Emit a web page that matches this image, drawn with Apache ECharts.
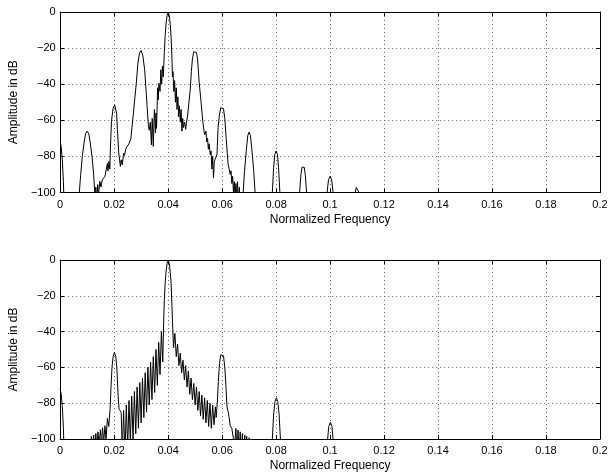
<!DOCTYPE html>
<html>
<head>
<meta charset="utf-8">
<script src="https://cdn.jsdelivr.net/npm/echarts@6.0.0/dist/echarts.min.js"></script>
<style>
html,body{margin:0;padding:0;background:#fff;}
#chart{width:611px;height:473px;}
</style>
</head>
<body>
<div id="chart"></div>
<script>
// Frequency axis ticks and amplitude ticks
const xTicks = [0, 0.02, 0.04, 0.06, 0.08, 0.1, 0.12, 0.14, 0.16, 0.18, 0.2];
const yTicks = [-100, -80, -60, -40, -20, 0];
const xTitle = 'Normalized Frequency';
const yTitle = 'Amplitude in dB';

// Upper panel spectrum: [normalized frequency, amplitude dB] (values below -100 are clipped)
const topSpectrum = [
  [0,-72],[0.0004,-75],[0.0008,-82],[0.0012,-94],[0.0016,-115],[0.004,-125],
  [0.0068,-115],[0.0071,-100],[0.0076,-90],[0.0082,-80],[0.0089,-72],[0.0094,-67.5],[0.01,-66],
  [0.0106,-67.5],[0.0111,-72],[0.0118,-80],[0.0124,-90],[0.0128,-100],[0.013,-106],[0.0132,-97],
  [0.01353,-104],[0.0139,-95.6],[0.0142,-101],[0.0147,-93.8],[0.0151,-97],[0.0156,-93],[0.0161,-92],
  [0.0166,-91],[0.0171,-90],[0.0175,-83.8],[0.0177,-88],[0.0181,-82.8],[0.0184,-87],[0.0186,-76],
  [0.019,-60.6],[0.0196,-53.3],[0.0202,-51.5],[0.0209,-56],[0.0212,-65],[0.0217,-78],[0.0223,-85.6],
  [0.0226,-81.9],[0.023,-84.7],[0.0235,-78.2],[0.0238,-79.5],[0.0244,-75.5],[0.025,-74.6],
  [0.0256,-72.7],[0.0262,-70],[0.0266,-64],[0.027,-58],[0.0276,-48.7],[0.0282,-39.5],[0.0288,-28.3],
  [0.0294,-22.7],[0.03,-21.3],[0.0306,-24],[0.0313,-32],[0.0319,-45],[0.0322,-52.3],[0.0327,-63.4],
  [0.033,-65.5],[0.0334,-61],[0.0338,-73.6],[0.0341,-59],[0.0345,-74.5],[0.0349,-54],[0.0353,-67],
  [0.0355,-56],[0.0357,-64.5],[0.0361,-42],[0.0363,-48.7],[0.0366,-39.5],[0.037,-44],[0.0373,-32],
  [0.0376,-40],[0.0379,-30],[0.0382,-36],[0.0386,-22],[0.0389,-13],[0.0392,-7],[0.0396,-2],[0.04,0],
  [0.0404,-2],[0.0408,-7],[0.0411,-14],[0.0414,-25],[0.0416,-36],[0.0418,-33],[0.0421,-44],
  [0.0424,-38],[0.0427,-50],[0.043,-42],[0.0433,-54],[0.0436,-47],[0.0439,-58],[0.0442,-52],
  [0.0445,-61],[0.0448,-54],[0.0451,-66],[0.0454,-59],[0.0457,-64],[0.0461,-61],[0.0465,-65],
  [0.0468,-61],[0.0472,-57.7],[0.0477,-50],[0.0482,-42.8],[0.0486,-33],[0.049,-26],[0.0495,-22],
  [0.05,-21],[0.0505,-22.5],[0.0509,-26],[0.0515,-39],[0.0522,-50],[0.0528,-60],[0.0533,-66],
  [0.0536,-68],[0.054,-66],[0.0543,-72],[0.0546,-70],[0.0549,-76],[0.0552,-73],[0.0556,-79],
  [0.0559,-77],[0.0562,-87],[0.0565,-80],[0.0568,-92],[0.0571,-83],[0.0574,-81.5],[0.0578,-82],
  [0.0581,-79],[0.0585,-64],[0.059,-57],[0.0595,-53],[0.06,-52],[0.0605,-53.5],[0.061,-59],
  [0.0615,-70],[0.0622,-84],[0.0626,-85],[0.063,-90],[0.0633,-88],[0.0636,-95],[0.0639,-91],
  [0.0642,-100],[0.0645,-94],[0.0648,-103],[0.0651,-95],[0.0654,-104],[0.0657,-94],[0.066,-106],
  [0.0664,-97],[0.0667,-110],[0.067,-102],[0.0674,-115],[0.0678,-100],[0.0683,-88],[0.069,-76],
  [0.0695,-68.5],[0.07,-66.5],[0.0705,-68.5],[0.071,-76],[0.0717,-88],[0.0722,-100],[0.0726,-115],
  [0.075,-125],[0.0782,-115],[0.0786,-100],[0.0791,-86],[0.0795,-79],[0.08,-77],[0.0805,-79],
  [0.0809,-86],[0.0814,-100],[0.0818,-115],[0.085,-125],[0.0884,-115],[0.0887,-100],[0.0892,-90],
  [0.0896,-86],[0.09,-85],[0.0904,-86],[0.0908,-90],[0.0913,-100],[0.0916,-115],[0.095,-125],
  [0.0986,-115],[0.0989,-100],[0.0994,-93],[0.1,-91],[0.1006,-93],[0.1011,-100],[0.1014,-115],
  [0.105,-125],[0.1091,-115],[0.1093,-100],[0.1097,-97.2],[0.11,-96.5],[0.1103,-97.2],[0.1107,-100],
  [0.1109,-115],[0.2,-125]
];

// Lower panel spectrum: [normalized frequency, amplitude dB]
const bottomSpectrum = [
  [0,-72],[0.0004,-75],[0.0008,-82],[0.0012,-94],[0.0016,-115],[0.006,-125],[0.011,-110],
  [0.01156,-98.5],[0.012,-108],[0.0124,-97.8],[0.0128,-106],[0.0132,-96.9],[0.0136,-105],[0.014,-96],
  [0.0144,-104],[0.0149,-94.8],[0.0153,-103],[0.0157,-93.7],[0.0161,-102],[0.0166,-92.6],[0.017,-100],
  [0.0175,-88.5],[0.018,-93],[0.0185,-83],[0.0188,-72],[0.0192,-60],[0.0196,-54],[0.0201,-51.5],
  [0.0206,-54],[0.021,-60],[0.0214,-74],[0.0218,-83.3],[0.0222,-84],[0.0226,-85],
  [0.023,-108],[0.0235,-84],[0.024,-110],[0.0245,-81],[0.025,-105],[0.0255,-78.5],[0.026,-102],
  [0.0265,-76],[0.027,-100],[0.0275,-73.5],[0.028,-97],[0.0285,-71],[0.029,-94],[0.0295,-68.5],
  [0.03,-91],[0.0305,-66],[0.031,-88],[0.0315,-63],[0.032,-85],[0.0325,-60],[0.033,-81],[0.0335,-57],
  [0.034,-78],[0.0345,-54],[0.035,-74],[0.0355,-50],[0.036,-70],[0.0365,-46],[0.037,-64],[0.0375,-40],
  [0.038,-57],[0.0384,-31],[0.0386,-22],[0.0389,-13],[0.0392,-7],[0.0396,-2],[0.04,0],[0.0404,-2],
  [0.0408,-7],[0.0411,-13],[0.0414,-25],[0.0416,-34],[0.042,-49],[0.0425,-41],[0.043,-54],[0.0435,-47],
  [0.044,-59],[0.0445,-52],[0.045,-63],[0.0455,-56],[0.046,-67],[0.0465,-59],[0.047,-71],[0.0475,-62],
  [0.048,-75],[0.0485,-66],[0.049,-78],[0.0495,-69],[0.05,-81],[0.0505,-71],[0.051,-84],[0.0515,-73.5],
  [0.052,-87],[0.0525,-75.5],[0.053,-89],[0.0535,-77],[0.054,-91],[0.0545,-78.5],[0.055,-93],
  [0.0555,-80],[0.056,-94],[0.0565,-81],[0.057,-92],[0.0575,-82],[0.0578,-88],[0.0582,-80],
  [0.0586,-68],[0.059,-58],[0.0595,-53],[0.06,-52],[0.0605,-53.5],[0.061,-60],[0.0614,-70],
  [0.0618,-82],[0.0622,-84.5],[0.0626,-88],[0.063,-92.6],[0.0636,-94],[0.0642,-94.4],[0.0646,-104],
  [0.0651,-94.1],[0.0655,-108],[0.0659,-95],[0.0663,-110],[0.0667,-96],[0.0671,-112],[0.0675,-97],
  [0.0679,-112],[0.0684,-97.8],[0.0687,-114],[0.0691,-98.5],[0.0695,-115],[0.07,-99.3],[0.0705,-118],
  [0.074,-125],[0.0782,-115],[0.0786,-100],[0.0791,-86],[0.0796,-79],[0.0801,-77],[0.0806,-79],
  [0.0811,-86],[0.0816,-100],[0.082,-115],[0.09,-125],[0.0987,-115],[0.0991,-100],[0.0995,-93],
  [0.1001,-90.7],[0.1007,-93],[0.1011,-100],[0.1015,-115],[0.2,-125]
];

const FONT = 'Liberation Sans, Arial, Helvetica, sans-serif';
const chart = echarts.init(document.getElementById('chart'), null, {renderer: 'canvas'});

const grids = [
  {left: 57, top: 12, width: 543, height: 180.5},
  {left: 57, top: 260, width: 543, height: 180}
];

function fmtX(v) { return String(Number(v.toFixed(2))); }
function fmtY(v) { return String(v).replace('-', '\u2212'); }

const xStep = Number((xTicks[1] - xTicks[0]).toFixed(4));
const yStep = yTicks[1] - yTicks[0];
const gridDots = {color: '#666', type: [1, 3], width: 1};

const xAxes = [], yAxes = [];
grids.forEach((g, i) => {
  xAxes.push({
    type: 'value', gridIndex: i, position: 'bottom',
    min: 0, max: 0.2, interval: xStep,
    name: xTitle, nameLocation: 'middle', nameGap: 21,
    nameTextStyle: {fontFamily: FONT, fontSize: 12, color: '#000'},
    axisLine: {show: true, onZero: false, lineStyle: {color: '#000', width: 1}},
    axisTick: {show: true, inside: true, length: 4, lineStyle: {color: '#000'}},
    axisLabel: {show: true, margin: 6.5, fontFamily: FONT, fontSize: 11, color: '#000', formatter: fmtX},
    splitLine: {show: true, lineStyle: gridDots}
  });
  xAxes.push({
    type: 'value', gridIndex: i, position: 'top',
    min: 0, max: 0.2, interval: xStep,
    axisLine: {show: true, onZero: false, lineStyle: {color: '#000', width: 1}},
    axisTick: {show: true, inside: true, length: 4, lineStyle: {color: '#000'}},
    axisLabel: {show: false}, splitLine: {show: false}
  });
  yAxes.push({
    type: 'value', gridIndex: i, position: 'left',
    min: -100, max: 0, interval: yStep,
    name: yTitle, nameLocation: 'middle', nameGap: 28,
    nameTextStyle: {fontFamily: FONT, fontSize: 12, color: '#000'},
    axisLine: {show: true, onZero: false, lineStyle: {color: '#000', width: 1}},
    axisTick: {show: true, inside: true, length: 4, lineStyle: {color: '#000'}},
    axisLabel: {show: true, margin: 4.5, fontFamily: FONT, fontSize: 11, color: '#000', formatter: fmtY},
    splitLine: {show: true, lineStyle: gridDots}
  });
  yAxes.push({
    type: 'value', gridIndex: i, position: 'right',
    min: -100, max: 0, interval: yStep,
    axisLine: {show: true, onZero: false, lineStyle: {color: '#000', width: 1}},
    axisTick: {show: true, inside: true, length: 4, lineStyle: {color: '#000'}},
    axisLabel: {show: false}, splitLine: {show: false}
  });
});

chart.setOption({
  animation: false,
  backgroundColor: '#fff',
  grid: grids,
  xAxis: xAxes,
  yAxis: yAxes,
  series: [
    {type: 'line', xAxisIndex: 0, yAxisIndex: 0, data: topSpectrum, showSymbol: false, clip: true,
     lineStyle: {color: '#000', width: 1}},
    {type: 'line', xAxisIndex: 2, yAxisIndex: 2, data: bottomSpectrum, showSymbol: false, clip: true,
     lineStyle: {color: '#000', width: 1}}
  ]
});
</script>
</body>
</html>
